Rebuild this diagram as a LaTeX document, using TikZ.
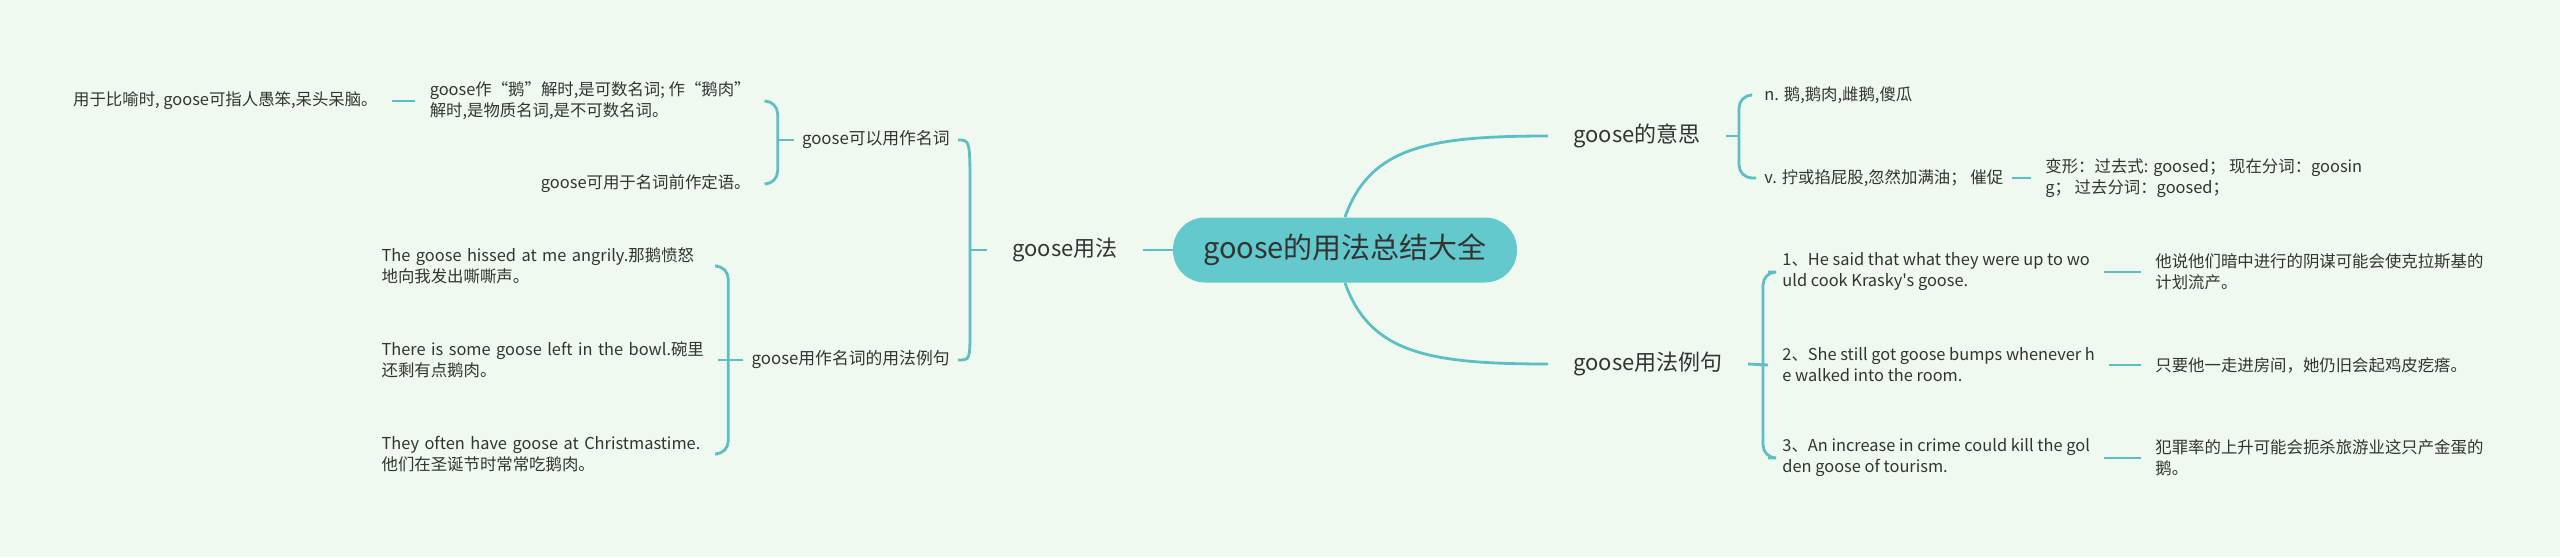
\documentclass[tikz,border=0pt]{standalone}
\usepackage{fontspec}
\setmainfont{Noto Sans CJK SC}
\newfontfamily\mmfont{Noto Sans CJK SC}
\definecolor{bgc}{HTML}{F0F9F0}
\definecolor{lnc}{HTML}{5DBFC4}
\definecolor{rootc}{HTML}{63C9CC}
\definecolor{txc}{HTML}{333333}
\begin{document}
\begin{tikzpicture}[x=0.5pt,y=-0.5pt,
  conn/.style={draw=lnc,line width=1.4pt},
  brk/.style={conn,rounded corners=6.5pt},
  rootnode/.style={fill=rootc,rounded corners=16pt,minimum width=172pt,minimum height=32.5pt,font=\mmfont\fontsize{14.5}{17}\selectfont,text=txc,inner sep=0pt},
  mainnode/.style={font=\mmfont\fontsize{11}{13}\selectfont,text=txc,inner xsep=12.5pt,inner ysep=3pt},
  midnode/.style={font=\mmfont\fontsize{8.4}{10.5}\selectfont,text=txc,inner xsep=4pt,inner ysep=2pt},
  leafnode/.style={font=\mmfont\fontsize{8.2}{10.5}\selectfont,text=txc,inner xsep=7pt,inner ysep=2pt,align=left},
  exnode/.style={leafnode,inner xsep=4pt,text width=164pt},
]
\fill[bgc] (0,0) rectangle (2560,557);
\useasboundingbox (0,0) rectangle (2560,557);

% root and main branches
\node[rootnode] (root) at (1345,250) {goose的用法总结大全};
\node[mainnode,anchor=east] (L1) at (1143,250) {goose用法};
\node[mainnode,anchor=west] (R1) at (1548,136) {goose的意思};
\node[mainnode,anchor=west] (R2) at (1548,364) {goose用法例句};

% left side
\node[midnode,anchor=east] (M1) at (958,140) {goose可以用作名词};
\node[midnode,anchor=east] (M2) at (958,360) {goose用作名词的用法例句};
\node[leafnode,anchor=east] (A1) at (765,101) {goose作“鹅”解时,是可数名词; 作“鹅肉”\\解时,是物质名词,是不可数名词。};
\node[leafnode,anchor=east] (A0) at (392,101) {用于比喻时, goose可指人愚笨,呆头呆脑。};
\node[leafnode,anchor=east] (A2) at (765,184) {goose可用于名词前作定语。};
\node[exnode,anchor=east] (C1) at (718,266) {The goose hissed at me angrily.那鹅愤怒\\地向我发出嘶嘶声。};
\node[exnode,anchor=east] (C2) at (718,360) {There is some goose left in the bowl.碗里\\还剩有点鹅肉。};
\node[exnode,anchor=east] (C3) at (718,454) {They often have goose at Christmastime.\\他们在圣诞节时常常吃鹅肉。};

% right side
\node[leafnode,anchor=west] (D1) at (1750,95) {n. 鹅,鹅肉,雌鹅,傻瓜};
\node[leafnode,anchor=west,inner xsep=4pt] (D2) at (1756,178) {v. 拧或掐屁股,忽然加满油；\ 催促};
\node[leafnode,anchor=west] (D3) at (2031,178) {变形：过去式: goosed；\ 现在分词：goosin\\g；\ 过去分词：goosed；};
\node[leafnode,anchor=west] (E1) at (1768,272) {1、He said that what they were up to wo\\uld cook Krasky's goose.};
\node[leafnode,anchor=west] (E2) at (1768,365) {2、She still got goose bumps whenever h\\e walked into the room.};
\node[leafnode,anchor=west] (E3) at (1768,458) {3、An increase in crime could kill the gol\\den goose of tourism.};
\node[leafnode,anchor=west] (F1) at (2141,272) {他说他们暗中进行的阴谋可能会使克拉斯基的\\计划流产。};
\node[leafnode,anchor=west] (F2) at (2141,365) {只要他一走进房间，她仍旧会起鸡皮疙瘩。};
\node[leafnode,anchor=west] (F3) at (2141,458) {犯罪率的上升可能会扼杀旅游业这只产金蛋的\\鹅。};

% root connectors
\draw[conn] (root.west) -- (L1.east);
\draw[conn] (root.north) .. controls +(25,-70) and +(-120,0) .. (R1.west);
\draw[conn] (root.south) .. controls +(25,70) and +(-120,0) .. (R2.west);

% bracket of goose用法
\coordinate (b1) at ([xshift=-8.5pt]L1.west);
\coordinate (b1t) at (b1 |- M1.east);
\coordinate (b1b) at (b1 |- M2.east);
\draw[conn] (L1.west) -- (b1);
\draw[conn] (M1.east) .. controls (b1t) .. ([yshift=-25pt]b1t) -- ([yshift=15pt]b1b) .. controls (b1b) .. (M2.east);

% bracket of goose可以用作名词
\coordinate (b2) at ([xshift=-8pt]M1.west);
\draw[conn] (M1.west) -- (b2);
\draw[brk] (A1.east) -| (b2) |- (A2.east);
\draw[conn] (A1.west) -- (A0.east);

% bracket of goose用作名词的用法例句
\coordinate (b3) at ([xshift=-7.5pt]M2.west);
\draw[brk] (C1.east) -| (b3) |- (C3.east);
\draw[conn] (M2.west) -- (C2.east);

% bracket of goose的意思
\coordinate (b4) at ([xshift=6.5pt]R1.east);
\draw[conn] (R1.east) -- (b4);
\draw[brk] (D1.west) -| (b4) |- (D2.west);
\draw[conn] (D2.east) -- (D3.west);

% bracket of goose用法例句
\coordinate (b5) at ([xshift=7.5pt]R2.east);
\draw[brk] (E1.west) -| (b5) |- (E3.west);
\draw[conn] (R2.east) -- (E2.west);
\draw[conn] (E1.east) -- (F1.west);
\draw[conn] (E2.east) -- (F2.west);
\draw[conn] (E3.east) -- (F3.west);
\end{tikzpicture}
\end{document}
